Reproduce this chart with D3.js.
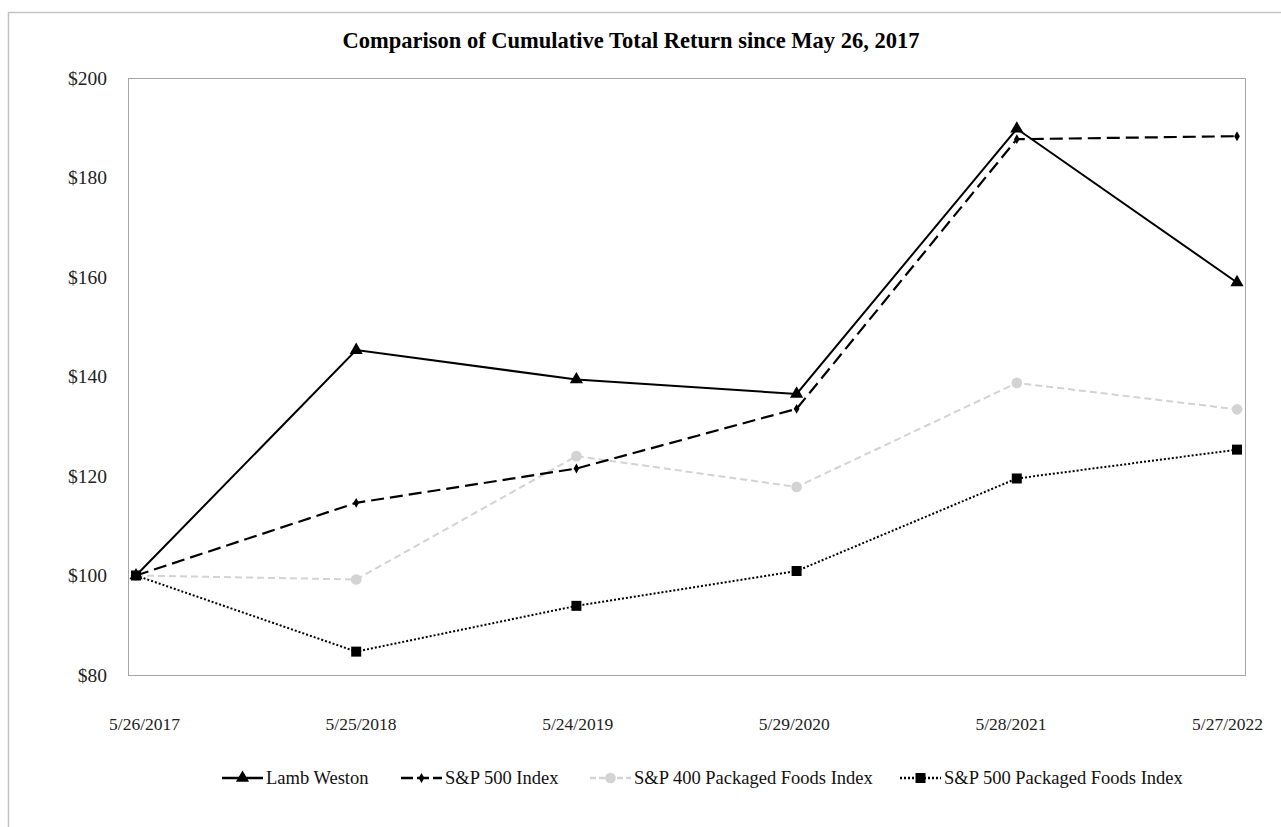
<!DOCTYPE html>
<html>
<head>
<meta charset="utf-8">
<script src="https://cdn.jsdelivr.net/npm/d3@7"></script>
<style>
  body { margin: 0; background: #fff; }
  svg { display: block; font-family: "Liberation Serif", "Times New Roman", serif; }
</style>
</head>
<body>
<svg class="chart" width="1281" height="827"></svg>
<script>
// data
const dates = ['5/26/2017', '5/25/2018', '5/24/2019', '5/29/2020', '5/28/2021', '5/27/2022'];
const lambWeston = [100, 145.3, 139.4, 136.5, 189.8, 158.9];
const sp500 = [100, 114.6, 121.5, 133.5, 187.7, 188.3];
const sp400Foods = [100, 99.2, 124.0, 117.8, 138.7, 133.4];
const sp500Foods = [100, 84.7, 93.9, 100.9, 119.5, 125.3];
const yTicks = [80, 100, 120, 140, 160, 180, 200];

const seriesNames = ['Lamb Weston', 'S&P 500 Index', 'S&P 400 Packaged Foods Index', 'S&P 500 Packaged Foods Index'];

const series = [
    { name: seriesNames[0], values: lambWeston, color: '#000', dash: null, width: 2, symbol: d3.symbolTriangle, size: 75 },
    { name: seriesNames[1], values: sp500, color: '#000', dash: '13,6', width: 2.2, symbol: d3.symbolDiamond, size: 28 },
    { name: seriesNames[2], values: sp400Foods, color: '#d3d3d3', dash: '7,4', width: 2, symbol: d3.symbolCircle, size: 90 },
    { name: seriesNames[3], values: sp500Foods, color: '#000', dash: '2,2', width: 2, symbol: d3.symbolSquare, size: 100 }
];

const svg = d3.select('.chart');
const width = +svg.attr('width');
const height = +svg.attr('height');

// outer chart border (only top and left show in the picture)
svg.append('path')
    .attr('d', `M8.5,${height} V12.5 H${width}`)
    .attr('fill', 'none')
    .attr('stroke', '#c4c4c4')
    .attr('stroke-width', 1.5);

const plot = { left: 128, top: 78, right: 1245, bottom: 675 };

const xScale = d3.scalePoint()
    .domain(dates)
    .range([136, 1237]);

// category labels sit a little inside the points
const xLabelScale = d3.scalePoint()
    .domain(dates)
    .range([144, 1227]);

const yScale = d3.scaleLinear()
    .domain([80, 200])
    .range([plot.bottom, plot.top]);

//plot area frame
svg.append('rect')
    .attr('x', plot.left + 0.5)
    .attr('y', plot.top + 0.5)
    .attr('width', plot.right - plot.left)
    .attr('height', plot.bottom - plot.top)
    .attr('fill', 'none')
    .attr('stroke', '#a6a6a6')
    .attr('stroke-width', 1);

// title
svg.append('text')
    .attr('x', 631)
    .attr('y', 48)
    .attr('text-anchor', 'middle')
    .attr('font-weight', 'bold')
    .attr('font-size', 22.5)
    .attr('fill', '#000')
    .text('Comparison of Cumulative Total Return since May 26, 2017');

// y axis
const yAxis = svg.append('g')
    .attr('transform', `translate(${plot.left - 5}, 0)`)
    .call(d3.axisLeft(yScale).tickValues(yTicks).tickSize(0).tickPadding(16).tickFormat(d => '$' + d));
yAxis.select('.domain').remove();
yAxis.selectAll('text')
    .attr('font-family', '"Liberation Serif", serif')
    .attr('font-size', 19.5)
    .attr('fill', '#222');

// x axis
const xAxis = svg.append('g')
    .attr('transform', `translate(0, ${plot.bottom})`)
    .call(d3.axisBottom(xLabelScale).tickSize(0).tickPadding(43));
xAxis.select('.domain').remove();
xAxis.selectAll('text')
    .attr('font-family', '"Liberation Serif", serif')
    .attr('font-size', 17.5)
    .attr('fill', '#222');

const line = d3.line()
    .x((d, i) => xScale(dates[i]))
    .y(d => yScale(d));

// draw lines back to front so Lamb Weston sits on top
const drawOrder = [2, 3, 1, 0].map(i => series[i]);

const groups = svg.append('g')
    .selectAll('g')
    .data(drawOrder)
    .join('g');

groups.append('path')
    .attr('d', d => line(d.values))
    .attr('fill', 'none')
    .attr('stroke', d => d.color)
    .attr('stroke-width', d => d.width)
    .attr('stroke-dasharray', d => d.dash);

groups.selectAll('path.marker')
    .data(d => d.values.map((v, i) => ({ v, i, s: d })))
    .join('path')
    .attr('class', 'marker')
    .attr('transform', d => `translate(${xScale(dates[d.i])}, ${yScale(d.v)})`)
    .attr('d', d => d3.symbol().type(d.s.symbol).size(d.s.size)())
    .attr('fill', d => d.s.color);

// legend
const legendX = [222, 401, 590, 900];
const legendY = 778;

const legend = svg.append('g')
    .selectAll('g')
    .data(series)
    .join('g')
    .attr('transform', (d, i) => `translate(${legendX[i]}, ${legendY})`);

legend.append('line')
    .attr('x1', 0)
    .attr('x2', 41)
    .attr('y1', 0)
    .attr('y2', 0)
    .attr('stroke', d => d.color)
    .attr('stroke-width', 2.5)
    .attr('stroke-dasharray', (d, i) => i === 1 ? '12,4' : i === 2 ? '6,3' : d.dash);

legend.append('path')
    .attr('transform', 'translate(20.5, 0)')
    .attr('d', d => d3.symbol().type(d.symbol).size(d.size)())
    .attr('fill', d => d.color);

legend.append('text')
    .attr('x', 44)
    .attr('y', 0)
    .attr('dy', '0.35em')
    .attr('font-size', 18.5)
    .attr('fill', '#111')
    .text(d => d.name);
</script>
</body>
</html>
